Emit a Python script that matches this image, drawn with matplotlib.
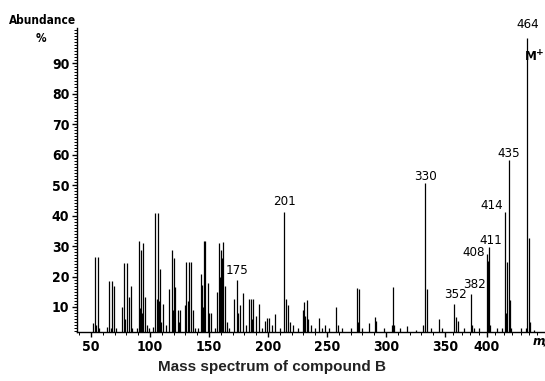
import numpy as np
import matplotlib
matplotlib.use('Agg')
import matplotlib.pyplot as plt
from matplotlib.ticker import MultipleLocator, FixedLocator

# peaks (position, % abundance)
mz = [51.7, 53.6, 54.5, 55.9, 57, 63.6, 65.3, 66.5, 67.5, 69.7, 71,
      76.0, 78.0, 79, 80.3, 81.9, 83.6, 85, 89, 90.4, 91.2, 92.1, 93, 94.3, 96.0, 97.5, 99,
      102.5, 104.5, 105.5, 106.5, 107.3, 108.2, 109.5, 110.8, 113.6,
      116.1, 118.6, 119.3, 120.1, 121.4, 123.5, 124.5, 125.4,
      129.7, 130.8, 131.8, 132.8, 134.7, 136.2, 138,
      141, 143.0, 144.3, 145.2, 146.0, 146.9, 148.9, 150.3, 151.4,
      155, 157.0, 158.7, 159.5, 160.4, 161.2, 161.9, 163.6, 165,
      167, 171.2, 173.5, 174.5, 176.3, 178.6, 181,
      183.9, 185.6, 186.5, 187.5, 189.6, 192.4, 195, 197.5, 199, 200.8, 203, 205.9,
      210, 213.8, 215.3, 216.7, 218.6, 221.4, 225, 229.4, 230.5, 231.5, 232.8, 234.2, 236,
      240, 243.2, 246, 248.3, 252, 257.4, 259, 263, 270, 275.4, 276.4, 277.4, 280,
      285.8, 290.4, 291.5, 298, 304.7, 305.7, 306.7, 312, 317.5, 325, 331.5, 332.6, 334.3,
      338, 345.2, 347, 360.7, 363.1, 365.8, 372, 380.6, 382, 385, 390,
      399.6, 400.8, 402.0, 403.6, 412, 418, 421.4, 422.5, 423.5, 425.8, 427.4, 429,
      440, 446, 448.0, 449.6, 451.2, 456]
abundance = [4.7, 26.3, 4, 26.3, 3, 3.5, 18.5, 3, 18.5, 16.9, 3,
             9.9, 24.5, 6, 24.5, 13.4, 16.9, 3, 3, 31.6, 9.8, 28.7, 8, 31.1, 13.4, 4, 3,
             3.5, 40.7, 12.6, 40.7, 12, 22.4, 5, 11, 4,
             15.8, 28.7, 9, 26, 16.7, 9, 5, 9,
             10.7, 24.9, 12, 24.9, 24.9, 9, 3,
             3, 20.8, 17.2, 10, 31.6, 31.6, 17.8, 8, 8,
             3, 15, 30.9, 20, 28.7, 26, 31.4, 17, 5,
             3, 12.6, 18.9, 8, 10.5, 14.7, 4,
             12.6, 12.6, 6, 12.6, 7, 10.9, 3, 5.5, 6.5, 6.5, 4, 7.6,
             3, 41.3, 12.6, 10.5, 5, 4, 3, 9, 11.7, 7, 12.3, 6, 4,
             3, 6.5, 3, 4, 3, 10.1, 4, 3, 3, 16.1, 5, 15.8, 3,
             4.7, 6.8, 5.5, 3, 4, 16.7, 4, 3, 3.8, 2.5, 4, 50.8, 16,
             3, 6, 3, 11, 6.8, 5.5, 3, 14.3, 4, 3, 3,
             27.4, 25, 29.6, 4, 3, 3, 41.3, 8, 24.9, 58.2, 12.3, 3,
             3, 3, 98.1, 32.5, 5, 2.5]

# labelled peaks: position on axis, printed label
label_pos = [173.5, 213.8, 332.6, 360.7, 380.6, 399.6, 402.0, 421.4, 425.8, 448.0]
label_txt = ['175', '201', '330', '352', '382', '408', '411', '414', '435', '464']
label_off = [(0, 9), (0, 9.7), (0.5, 5.7), (1, 9), (3.3, 9), (-12.7, 1), (2.3, 6.3),
             (-13, 5.7), (0.3, 7), (0, 14)]

xticks = [50, 100, 150, 200, 250, 300, 350, 400]
yticks = [10, 20, 30, 40, 50, 60, 70, 80, 90]

# printed axis is compressed above 350
anc_x = [-1000, 350, 2000]
anc_p = [445 - 1350 * 1.18, 445, 445 + 1650 * 0.84]
fwd = lambda x: np.interp(x, anc_x, anc_p)
inv = lambda p: np.interp(p, anc_p, anc_x)

narrow = dict(family='DejaVu Sans', stretch='condensed')

fig = plt.figure(figsize=(5.45, 3.81), dpi=100)
ax = fig.add_axes([77 / 545, 1 - 332 / 381, 1 - 77 / 545, (332 - 28) / 381])
ax.set_xscale('function', functions=(fwd, inv))

ax.vlines(mz, 0, abundance, color='black', lw=0.9)

ax.set_xlim(38.1, 469)
ax.set_ylim(1.8, 101.5)

for sp in ['top', 'right']:
    ax.spines[sp].set_visible(False)
ax.spines['left'].set_linewidth(1.0)
ax.spines['bottom'].set_linewidth(1.0)

ax.xaxis.set_major_locator(FixedLocator(xticks))
ax.xaxis.set_minor_locator(MultipleLocator(10))
ax.yaxis.set_major_locator(FixedLocator(yticks))
ax.yaxis.set_minor_locator(MultipleLocator(1))
ax.tick_params(axis='both', which='major', length=3.5, width=1, pad=2)
ax.tick_params(axis='both', which='minor', length=2, width=0.7)
ax.set_xticklabels([str(t) for t in xticks])
ax.set_yticklabels([str(t) for t in yticks])
for lab in ax.get_xticklabels() + ax.get_yticklabels():
    lab.set_family('DejaVu Sans')
    lab.set_stretch('condensed')
    lab.set_fontweight('bold')
    lab.set_fontsize(10)

for x, t, off in zip(label_pos, label_txt, label_off):
    y = abundance[mz.index(x)]
    ax.annotate(t, (x, y), xytext=off, textcoords='offset pixels',
                ha='center', va='center', fontsize=9.5, annotation_clip=False, **narrow)

ax.annotate(r'M$^{\mathbf{+}}$', (448.0, 98.1), xytext=(7, -19), textcoords='offset pixels',
            ha='center', va='center', fontsize=9.5, fontweight='bold',
            annotation_clip=False, **narrow)

fig.text(43 / 545, 1 - 20 / 381, 'Abundance', ha='center', va='center',
         fontsize=8.5, fontweight='bold', **narrow)
fig.text(41 / 545, 1 - 38 / 381, '%', ha='center', va='center',
         fontsize=8.5, fontweight='bold', **narrow)
fig.text(533 / 545, 1 - 341 / 381, 'm/z', ha='left', va='center',
         fontsize=9.5, fontweight='bold', fontstyle='italic', **narrow)

fig.text(272 / 545, 1 - 367 / 381, 'Mass spectrum of compound B', ha='center', va='center',
         fontsize=11, fontweight='bold', color='#222222',
         family=['Liberation Sans', 'DejaVu Sans'])

fig.savefig('out.png', dpi=100)
